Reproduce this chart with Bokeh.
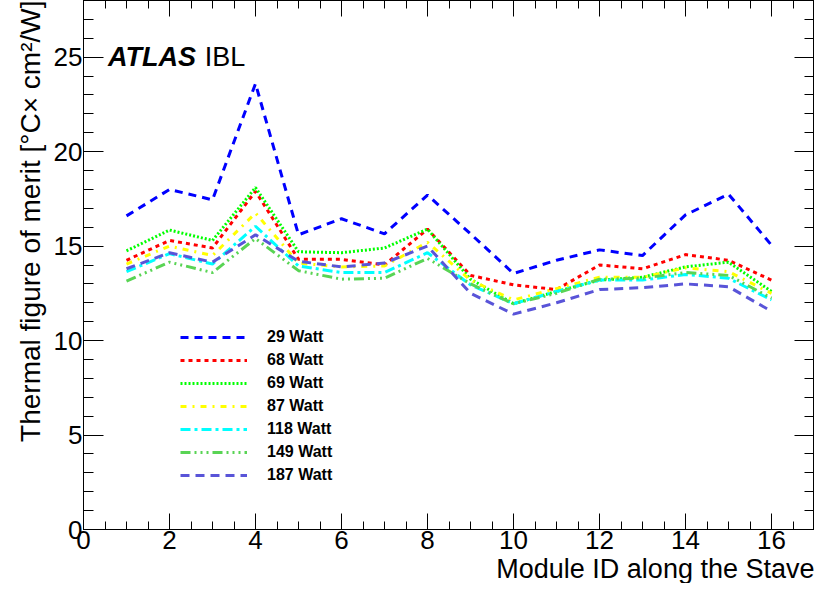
from bokeh.plotting import figure
from bokeh.models import (Range1d, SingleIntervalTicker, LinearAxis, Legend,
                          LegendItem, Title, Label)
from bokeh.embed import file_html
from bokeh.resources import INLINE

modules = list(range(1, 17))

w29 = [16.6, 18.0, 17.45, 23.6, 15.6, 16.45, 15.65, 17.7, 15.65, 13.55, 14.25, 14.8, 14.5, 16.65, 17.75, 15.05]
w68 = [14.25, 15.3, 14.9, 17.9, 14.3, 14.3, 14.0, 15.9, 13.45, 12.95, 12.7, 14.0, 13.8, 14.55, 14.25, 13.2]
w69 = [14.75, 15.85, 15.3, 18.1, 14.7, 14.65, 14.9, 15.9, 13.25, 11.95, 12.6, 13.2, 13.35, 13.9, 14.15, 12.6]
w87 = [14.05, 15.0, 14.5, 16.75, 14.1, 13.9, 13.95, 15.2, 13.2, 12.15, 12.75, 13.35, 13.35, 13.85, 13.65, 12.5]
w118 = [13.65, 14.6, 14.05, 16.05, 13.95, 13.6, 13.6, 14.65, 12.95, 11.95, 12.6, 13.2, 13.2, 13.5, 13.3, 12.15]
w149 = [13.15, 14.15, 13.6, 15.4, 13.7, 13.25, 13.3, 14.35, 13.0, 11.95, 12.5, 13.25, 13.3, 13.6, 13.45, 12.25]
w187 = [13.8, 14.65, 14.15, 15.6, 14.2, 13.9, 14.1, 15.0, 12.5, 11.4, 12.0, 12.7, 12.8, 13.0, 12.85, 11.55]

series = [
    ("29 Watt", w29, "#0000ff", "8 6"),
    ("68 Watt", w68, "#ff0000", "4 4"),
    ("69 Watt", w69, "#00ff00", "2 2"),
    ("87 Watt", w87, "#ffff00", "6 6 2 6"),
    ("118 Watt", w118, "#00ffff", "10 4 3 4"),
    ("149 Watt", w149, "#59d454", "10 4 2 4 2 4 2 4"),
    ("187 Watt", w187, "#5954d8", "9 6"),
]

x_ticks = [0, 2, 4, 6, 8, 10, 12, 14, 16]
y_ticks = [0, 5, 10, 15, 20, 25]

FONT = "Liberation Sans"

p = figure(width=814, height=583, output_backend="svg", toolbar_location=None,
           x_range=Range1d(0, 17), y_range=Range1d(0, 28),
           min_border_left=83, min_border_right=0, min_border_top=0,
           min_border_bottom=40, x_axis_type=None, y_axis_type=None)
p.xgrid.visible = False
p.ygrid.visible = False
p.outline_line_color = "black"
p.outline_line_width = 1

def make_axis(kind, labels):
    if kind == "x":
        t = SingleIntervalTicker(interval=2, num_minor_ticks=4)
        ax = LinearAxis(ticker=t)
        ax.major_tick_in = 16
        ax.minor_tick_in = 8
        ticks = x_ticks
    else:
        t = SingleIntervalTicker(interval=5, num_minor_ticks=5)
        ax = LinearAxis(ticker=t)
        ax.major_tick_in = 20
        ax.minor_tick_in = 10
        ticks = y_ticks
    ax.major_tick_out = 0
    ax.minor_tick_out = 0
    ax.axis_line_color = "black"
    ax.major_tick_line_color = "black"
    ax.minor_tick_line_color = "black"
    ax.major_label_text_font = FONT
    ax.major_label_text_color = "black"
    if labels:
        ax.major_label_text_font_size = "26px"
        ax.major_label_standoff = 1
    else:
        ax.major_label_overrides = {v: "" for v in ticks}
        ax.major_label_standoff = 0
    return ax

p.add_layout(make_axis("x", True), "below")
p.add_layout(make_axis("y", True), "left")
p.add_layout(make_axis("x", False), "above")
p.add_layout(make_axis("y", False), "right")

p.add_layout(Title(text="Module ID along the Stave", align="right",
                   text_font=FONT, text_font_size="27px", text_font_style="normal",
                   text_color="black", standoff=0), "below")
p.add_layout(Title(text="Thermal figure of merit [°C× cm²/W]", align="right",
                   text_font=FONT, text_font_size="28px", text_font_style="normal",
                   text_color="black", standoff=10), "left")

items = []
for name, vals, col, dash in series:
    r = p.line(modules, vals, line_color=col, line_width=3, line_dash=dash)
    items.append(LegendItem(label=name, renderers=[r]))

legend = Legend(items=items, location=(97, 44), margin=0, padding=0,
                border_line_alpha=0, background_fill_alpha=0,
                glyph_width=67, glyph_height=20, label_height=20, spacing=3,
                label_standoff=20, label_text_font=FONT, label_text_color="black",
                label_text_font_size="16px", label_text_font_style="bold")
p.add_layout(legend, "center")

p.add_layout(Label(x=0.57, y=25, text="ATLAS", text_font=FONT, text_font_size="27px",
                   text_font_style="bold italic", text_baseline="middle",
                   text_color="black"))
p.add_layout(Label(x=2.82, y=25, text="IBL", text_font=FONT, text_font_size="27px",
                   text_font_style="normal", text_baseline="middle",
                   text_color="black"))

open("out.html", "w").write(file_html(p, INLINE))
